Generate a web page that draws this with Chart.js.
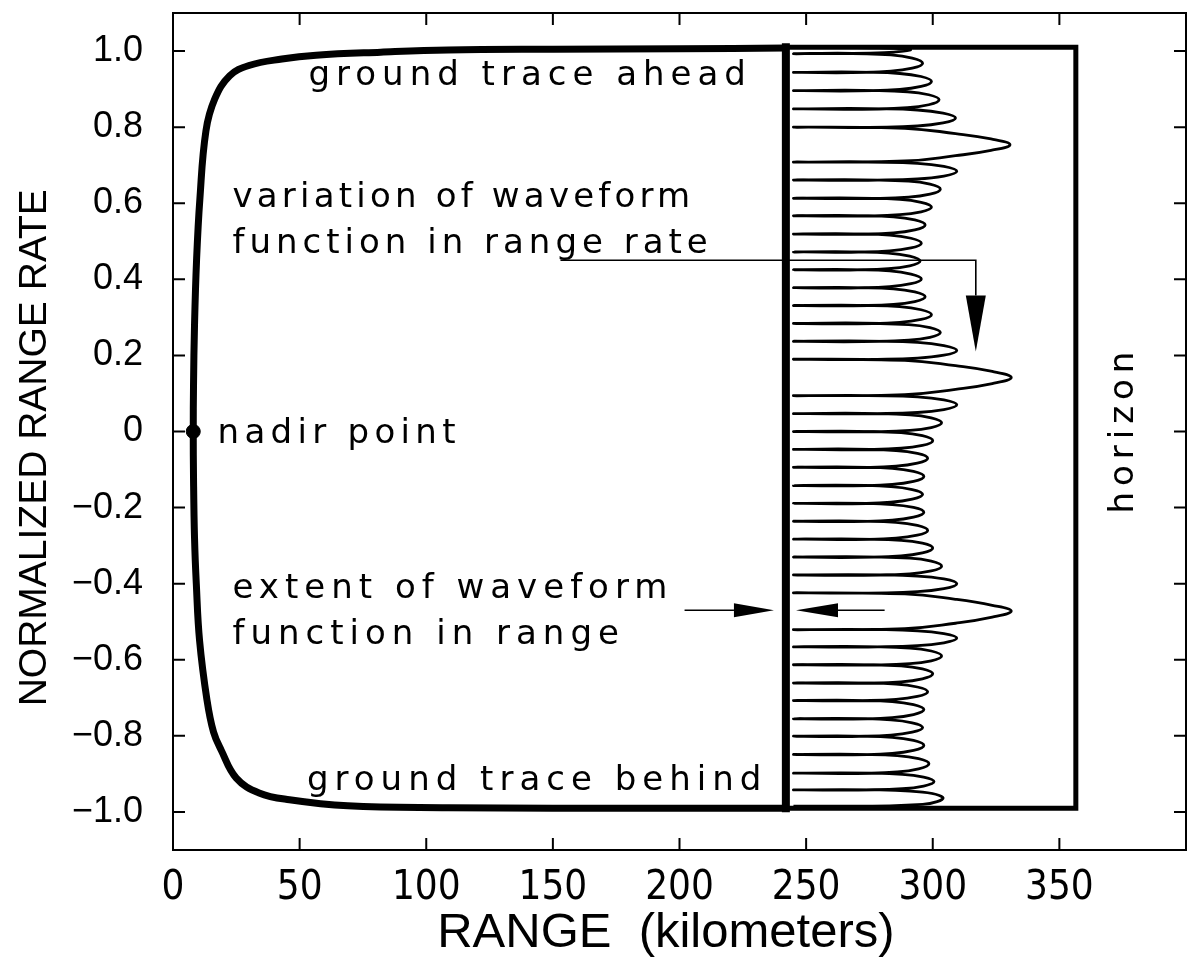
<!DOCTYPE html>
<html>
<head>
<meta charset="utf-8">
<script src="https://cdn.jsdelivr.net/npm/chart.js@4.4.1/dist/chart.umd.min.js"></script>
<style>
  html, body { margin: 0; padding: 0; background: #fff; }
  #wrap { width: 1194px; height: 959px; }
</style>
</head>
<body>
<div id="wrap"><canvas id="chart"></canvas></div>
<script>
var rangeTicks = [0, 50, 100, 150, 200, 250, 300, 350, 400],
    rateTicks = [-1.0, -0.8, -0.6, -0.4, -0.2, 0, 0.2, 0.4, 0.6, 0.8, 1.0];

// thick trace: ground trace behind -> nadir -> ground trace ahead
var groundRange = [242, 200, 150, 108.6, 69, 46, 34, 25, 19, 16, 13.4, 10.5, 9.2, 8.5, 8.1, 8,
                   8.1, 8.5, 9.3, 10.6, 13, 16.5, 22.4, 30, 43, 56.5, 82, 108.6, 150, 200, 242],
    groundRate = [-0.99, -0.99, -0.99, -0.989, -0.984, -0.968, -0.95, -0.911, -0.837, -0.79, -0.705, -0.55, -0.4, -0.28, -0.12, 0,
                  0.12, 0.28, 0.45, 0.61, 0.79, 0.874, 0.935, 0.962, 0.979, 0.989, 0.997, 1.003, 1.005, 1.006, 1.008];

// horizon box and the edge of the waveform extent
var boxRange = [242, 356.5, 356.5, 242],
    boxRate = [1.01, 1.01, -0.99, -0.99],
    edgeRange = [242, 242],
    edgeRate = [1.01, -0.99];

var nadirRange = [8],
    nadirRate = [0];

// waveform lobes, read lobe by lobe (range km, normalized range rate)
var waveOutline = [
  [268, 1.01], [291, 1.004], [281, 0.996], [245, 0.993],
  [283.5, 0.990], [296, 0.968], [283.5, 0.947], [245, 0.944],
  [287, 0.941], [299.5, 0.920], [287, 0.899], [245, 0.896],
  [290, 0.893], [302.5, 0.872], [290, 0.851], [245, 0.848],
  [294, 0.845], [309, 0.824], [294, 0.803], [245, 0.800],
  [289, 0.797], [309, 0.783], [323, 0.769], [330.5, 0.754], [323, 0.739], [309, 0.725], [289, 0.711], [245, 0.708],
  [294, 0.705], [309.5, 0.684], [294, 0.664], [245, 0.661],
  [290.5, 0.658], [303, 0.637], [290.5, 0.616], [245, 0.613],
  [287, 0.610], [299.5, 0.590], [287, 0.570], [245, 0.567],
  [284.5, 0.564], [297, 0.543], [284.5, 0.522], [245, 0.519],
  [283, 0.516], [295.5, 0.495], [283, 0.475], [245, 0.472],
  [282.5, 0.469], [295, 0.448], [282.5, 0.428], [245, 0.425],
  [283, 0.422], [295.5, 0.401], [283, 0.381], [245, 0.378],
  [284.5, 0.375], [297, 0.354], [284.5, 0.334], [245, 0.331],
  [287, 0.328], [299.5, 0.307], [287, 0.287], [245, 0.284],
  [290.5, 0.281], [303, 0.260], [290.5, 0.240], [245, 0.237],
  [294, 0.234], [309.5, 0.213], [294, 0.193], [245, 0.190],
  [289, 0.187], [309, 0.173], [323.5, 0.158], [331, 0.142], [323.5, 0.126], [309, 0.111], [289, 0.097], [245, 0.094],
  [294, 0.091], [309.5, 0.070], [294, 0.050], [245, 0.047],
  [291, 0.044], [303.5, 0.023], [291, 0.003], [245, 0.000],
  [287.5, -0.003], [300, -0.024], [287.5, -0.044], [245, -0.047],
  [285.5, -0.050], [298, -0.070], [285.5, -0.091], [245, -0.094],
  [284, -0.097], [296.5, -0.118], [284, -0.139], [245, -0.142],
  [283.5, -0.145], [296, -0.165], [283.5, -0.186], [245, -0.189],
  [284, -0.192], [296.5, -0.212], [284, -0.233], [245, -0.236],
  [285.5, -0.239], [298, -0.260], [285.5, -0.280], [245, -0.283],
  [287.5, -0.286], [300, -0.306], [287.5, -0.327], [245, -0.330],
  [291, -0.333], [303.5, -0.354], [291, -0.374], [245, -0.377],
  [294, -0.380], [309.5, -0.400], [294, -0.421], [245, -0.424],
  [289, -0.427], [309, -0.441], [323.5, -0.457], [331, -0.472], [323.5, -0.488], [309, -0.504], [289, -0.518], [245, -0.521],
  [294, -0.524], [309.5, -0.543], [294, -0.563], [245, -0.566],
  [291, -0.569], [303.5, -0.590], [291, -0.610], [245, -0.613],
  [287.5, -0.616], [300, -0.637], [287.5, -0.658], [245, -0.661],
  [285.5, -0.664], [298, -0.684], [285.5, -0.704], [245, -0.707],
  [284, -0.710], [296.5, -0.731], [284, -0.752], [245, -0.755],
  [283.5, -0.758], [296, -0.778], [283.5, -0.798], [245, -0.801],
  [284, -0.804], [296.5, -0.825], [284, -0.846], [245, -0.849],
  [286, -0.852], [298.5, -0.873], [286, -0.895], [245, -0.898],
  [288, -0.901], [300.5, -0.920], [288, -0.939], [245, -0.942],
  [291, -0.945], [304, -0.962], [296, -0.980], [245, -0.985]
];

var notes = [
  {text: 'ground trace ahead', x: 53.5, y: 0.911, spacing: 6},
  {text: 'variation of waveform', x: 23.5, y: 0.589, spacing: 4.2},
  {text: 'function in range rate', x: 23.5, y: 0.468, spacing: 5},
  {text: 'nadir point', x: 17.6, y: -0.029, spacing: 5.3},
  {text: 'extent of waveform', x: 23.5, y: -0.437, spacing: 6},
  {text: 'function in range', x: 23.5, y: -0.558, spacing: 6},
  {text: 'ground trace behind', x: 52.9, y: -0.942, spacing: 6},
  {text: 'horizon', x: 374.5, y: 0.005, spacing: 6, rotate: true}
];

var arrows = [
  {points: [[153, 0.45], [317, 0.45], [317, 0.21]], head: 56, half: 10},
  {points: [[202, -0.47], [237.3, -0.47]], head: 40, half: 7},
  {points: [[281, -0.47], [246, -0.47]], head: 42, half: 7}
];

function pairs(xs, ys) {
    return xs.map(function(x, i) { return {x: x, y: ys[i]}; });
}

function noPadding(scale) {
    scale.paddingTop = 0;
    scale.paddingBottom = 0;
    scale.paddingLeft = 0;
    scale.paddingRight = 0;
}

var notesPlugin = {
    id: 'notes',
    afterDraw: function(chart) {
        var ctx = chart.ctx,
            area = chart.chartArea,
            sx = chart.scales.x,
            sy = chart.scales.y;

        ctx.save();
        ctx.strokeStyle = '#000';
        ctx.fillStyle = '#000';

        // frame with inward ticks
        ctx.lineWidth = 2;
        ctx.strokeRect(area.left, area.top, area.right - area.left, area.bottom - area.top);
        ctx.beginPath();
        rangeTicks.forEach(function(v) {
            var px = sx.getPixelForValue(v);
            ctx.moveTo(px, area.bottom); ctx.lineTo(px, area.bottom - 12);
            ctx.moveTo(px, area.top); ctx.lineTo(px, area.top + 12);
        });
        rateTicks.forEach(function(v) {
            var py = sy.getPixelForValue(v);
            ctx.moveTo(area.left, py); ctx.lineTo(area.left + 12, py);
            ctx.moveTo(area.right, py); ctx.lineTo(area.right - 12, py);
        });
        ctx.stroke();

        // arrows
        ctx.lineWidth = 1.6;
        arrows.forEach(function(a) {
            var pts = a.points.map(function(p) {
                return [sx.getPixelForValue(p[0]), sy.getPixelForValue(p[1])];
            });
            var end = pts[pts.length - 1], prev = pts[pts.length - 2],
                dx = end[0] - prev[0], dy = end[1] - prev[1],
                len = Math.sqrt(dx * dx + dy * dy),
                ux = dx / len, uy = dy / len,
                bx = end[0] - ux * a.head, by = end[1] - uy * a.head;
            ctx.beginPath();
            ctx.moveTo(pts[0][0], pts[0][1]);
            for (var i = 1; i < pts.length - 1; i++) ctx.lineTo(pts[i][0], pts[i][1]);
            ctx.lineTo(bx, by);
            ctx.stroke();
            ctx.beginPath();
            ctx.moveTo(end[0], end[1]);
            ctx.lineTo(bx - uy * a.half, by + ux * a.half);
            ctx.lineTo(bx + uy * a.half, by - ux * a.half);
            ctx.closePath();
            ctx.fill();
        });

        // labels
        ctx.font = '34px "DejaVu Sans", sans-serif';
        ctx.textBaseline = 'alphabetic';
        notes.forEach(function(n) {
            var px = sx.getPixelForValue(n.x), py = sy.getPixelForValue(n.y);
            ctx.letterSpacing = n.spacing + 'px';
            if (n.rotate) {
                ctx.save();
                ctx.translate(px, py);
                ctx.rotate(-Math.PI / 2);
                ctx.textAlign = 'center';
                ctx.fillText(n.text, 0, 12);
                ctx.restore();
            } else {
                ctx.textAlign = 'left';
                ctx.fillText(n.text, px, py);
            }
        });
        ctx.restore();
    }
};

var chart = new Chart(document.getElementById('chart'), {
    type: 'scatter',
    data: {
        datasets: [{
            label: 'waveform',
            data: waveOutline.map(function(p) { return {x: p[0], y: p[1]}; }),
            showLine: true,
            borderColor: '#000',
            borderWidth: 2.8,
            tension: 0.45,
            pointRadius: 0
        }, {
            label: 'ground trace',
            data: pairs(groundRange, groundRate),
            showLine: true,
            borderColor: '#000',
            borderWidth: 7,
            tension: 0.4,
            pointRadius: 0
        }, {
            label: 'horizon box',
            data: pairs(boxRange, boxRate),
            showLine: true,
            borderColor: '#000',
            borderWidth: 5,
            borderCapStyle: 'square',
            borderJoinStyle: 'miter',
            tension: 0,
            pointRadius: 0
        }, {
            label: 'range extent',
            data: pairs(edgeRange, edgeRate),
            showLine: true,
            borderColor: '#000',
            borderWidth: 8,
            borderCapStyle: 'square',
            tension: 0,
            pointRadius: 0
        }, {
            label: 'nadir point',
            data: pairs(nadirRange, nadirRate),
            showLine: false,
            pointRadius: 7,
            pointBackgroundColor: '#000',
            pointBorderColor: '#000'
        }]
    },
    options: {
        responsive: true,
        maintainAspectRatio: false,
        animation: false,
        layout: {padding: {top: 13, right: 4, left: 0, bottom: 0}},
        plugins: {legend: {display: false}, tooltip: {enabled: false}},
        scales: {
            x: {
                type: 'linear',
                min: 0,
                max: 400,
                afterBuildTicks: function(scale) {
                    scale.ticks = rangeTicks.map(function(v) { return {value: v}; });
                },
                afterFit: function(scale) { scale.height = 109; noPadding(scale); },
                grid: {display: false},
                border: {display: false},
                ticks: {
                    color: '#000',
                    padding: 7,
                    maxRotation: 0,
                    font: {family: '"Liberation Sans Narrow", "DejaVu Sans Condensed", sans-serif', size: 40},
                    callback: function(v) { return v === 400 ? '' : String(v); }
                },
                title: {
                    display: true,
                    text: 'RANGE  (kilometers)  ',
                    color: '#000',
                    font: {family: '"Liberation Sans", sans-serif', size: 49, lineHeight: 1.05},
                    padding: {top: 0, bottom: 0}
                }
            },
            y: {
                type: 'linear',
                min: -1.1,
                max: 1.1,
                afterBuildTicks: function(scale) {
                    scale.ticks = rateTicks.map(function(v) { return {value: v}; });
                },
                afterFit: function(scale) { scale.width = 173; noPadding(scale); },
                grid: {display: false},
                border: {display: false},
                ticks: {
                    color: '#000',
                    padding: 22,
                    font: {family: '"Liberation Sans", sans-serif', size: 36},
                    callback: function(v) {
                        if (Math.abs(v) < 1e-9) return '0';
                        return (v < 0 ? '\u2212' : '') + Math.abs(v).toFixed(1);
                    }
                },
                title: {
                    display: true,
                    text: 'NORMALIZED RANGE RATE   ',
                    color: '#000',
                    font: {family: '"Liberation Sans", sans-serif', size: 39},
                    padding: {top: 12, bottom: 0}
                }
            }
        }
    },
    plugins: [notesPlugin]
});
</script>
</body>
</html>
